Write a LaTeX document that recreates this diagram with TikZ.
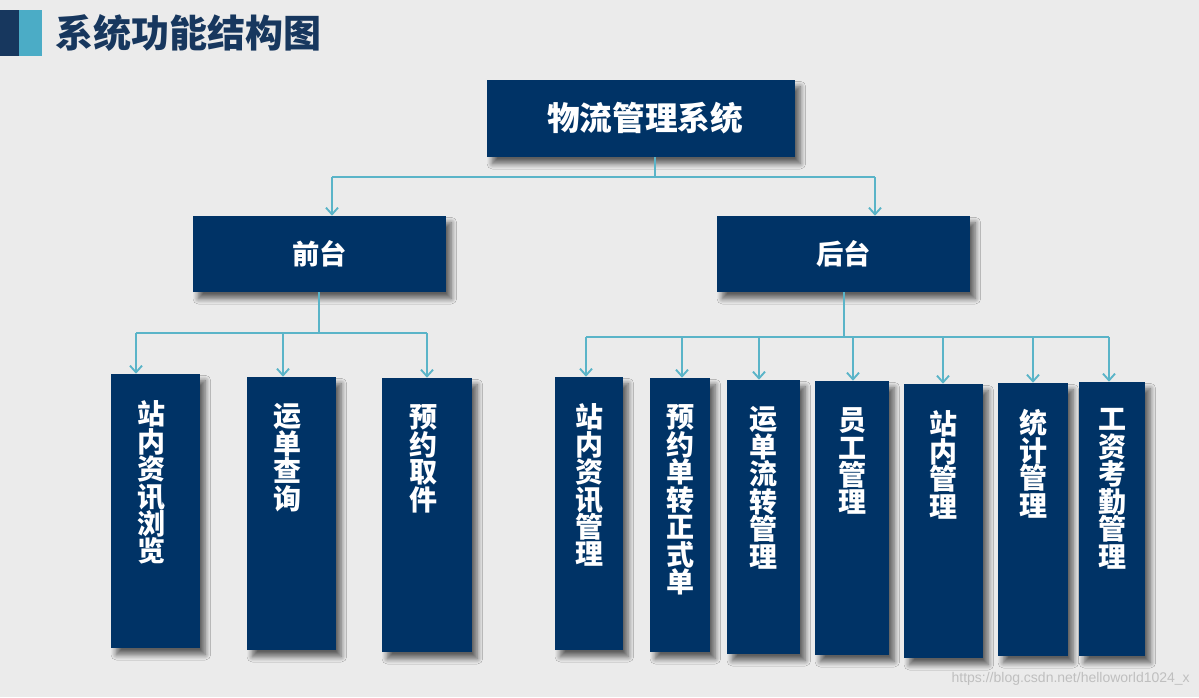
\documentclass[tikz,border=0pt]{standalone}
\usepackage{fontspec}
\usepackage{xcolor}
\usepackage{tikz}
\usetikzlibrary{arrows.meta,shadows.blur}
\newfontfamily\cjk{Noto Sans CJK SC}
\newfontfamily\wmfont{Liberation Sans}
\definecolor{boxnavy}{HTML}{003366}
\definecolor{titlenavy}{HTML}{17375E}
\definecolor{linkteal}{HTML}{5AB4C8}
\definecolor{tealblock}{HTML}{4BACC6}
\definecolor{bggray}{HTML}{EBEBEB}

\begin{document}
\begin{tikzpicture}[x=0.75pt, y=-0.75pt,
    box/.style={fill=boxnavy, inner sep=0pt, text=white,
      blur shadow={shadow xshift=4pt, shadow yshift=-5pt, shadow blur radius=4pt, shadow blur steps=8, shadow opacity=60}},
    leaftxt/.style={anchor=north, yshift=-20pt, align=center, text=white, inner sep=0pt,
      font=\cjk\bfseries\fontsize{21}{20.6}\selectfont},
    link/.style={linkteal, line width=1.4pt},
    arr/.style={link, -{Straight Barb[length=5pt, width=9pt]}}]
    % 背景
    \fill[bggray] (0,0) rectangle (1199,697);
    \useasboundingbox (0,0) rectangle (1199,697);

    % 标题
    \fill[titlenavy] (0,10) rectangle (19,56);
    \fill[tealblock] (19,10) rectangle (42,56);
    \node[anchor=west, inner sep=0pt, text=titlenavy, font=\cjk\bfseries\fontsize{28.5}{30}\selectfont] (title) at (55,33) {系统功能结构图};

    % 根节点
    \node[box, minimum width=231pt, minimum height=57.75pt, font=\cjk\bfseries\fontsize{24.5}{26}\selectfont] (sys) at (641,118.5) {\hspace{6pt}物流管理系统};

    % 第二层
    \node[box, minimum width=189.75pt, minimum height=57pt, font=\cjk\bfseries\fontsize{20.5}{22}\selectfont] (front) at (319.5,254) {前台};
    \node[box, minimum width=189.75pt, minimum height=57pt, font=\cjk\bfseries\fontsize{20.5}{22}\selectfont] (back) at (843.5,254) {后台};

    % 叶节点 -- 前台
    \node[box, minimum width=66.75pt, minimum height=205.5pt, label={[leaftxt, xshift=-3pt]north:站\\内\\资\\讯\\浏\\览}] (l1) at (155.5,511) {};
    \node[box, minimum width=66.75pt, minimum height=204.75pt, label={[leaftxt, xshift=-3pt]north:运\\单\\查\\询}] (l2) at (291.5,513.5) {};
    \node[box, minimum width=67.5pt, minimum height=205.5pt, label={[leaftxt, xshift=-3pt]north:预\\约\\取\\件}] (l3) at (427,515) {};

    % 叶节点 -- 后台
    \node[box, minimum width=51pt, minimum height=204.75pt, label={[leaftxt]north:站\\内\\资\\讯\\管\\理}] (l4) at (589,513.5) {};
    \node[box, minimum width=45pt, minimum height=205.5pt, label={[leaftxt]north:预\\约\\单\\转\\正\\式\\单}] (l5) at (680,515) {};
    \node[box, minimum width=54.75pt, minimum height=205.5pt, label={[leaftxt]north:运\\单\\流\\转\\管\\理}] (l6) at (763.5,517) {};
    \node[box, minimum width=55.5pt, minimum height=205.5pt, label={[leaftxt]north:员\\工\\管\\理}] (l7) at (852,518) {};
    \node[box, minimum width=59.25pt, minimum height=205.5pt, label={[leaftxt]north:站\\内\\管\\理}] (l8) at (943.5,521) {};
    \node[box, minimum width=52.5pt, minimum height=204.75pt, label={[leaftxt]north:统\\计\\管\\理}] (l9) at (1033,519.5) {};
    \node[box, minimum width=49.5pt, minimum height=205.5pt, label={[leaftxt]north:工\\资\\考\\勤\\管\\理}] (l10) at (1112,519) {};

    % 连线 -- 根节点
    \coordinate (sysj) at (655,177);
    \coordinate (frontj) at (332,177);
    \coordinate (backj) at (875,177);
    \draw[link] (sysj |- sys.south) -- (sysj);
    \draw[link] (frontj) -- (backj);
    \draw[arr] (frontj) -- (frontj |- front.north);
    \draw[arr] (backj) -- (backj |- back.north);

    % 连线 -- 前台
    \coordinate (fstem) at (319,333);
    \coordinate (fb1) at (136,333);
    \coordinate (fb2) at (283,333);
    \coordinate (fb3) at (427,333);
    \draw[link] (fstem |- front.south) -- (fstem);
    \draw[link] (fb1) -- (fb3);
    \draw[arr] (fb1) -- (fb1 |- l1.north);
    \draw[arr] (fb2) -- (fb2 |- l2.north);
    \draw[arr] (fb3) -- (fb3 |- l3.north);

    % 连线 -- 后台
    \coordinate (bstem) at (844,337);
    \coordinate (bb4) at (586,337);
    \coordinate (bb5) at (682,337);
    \coordinate (bb6) at (759,337);
    \coordinate (bb7) at (853,337);
    \coordinate (bb8) at (943,337);
    \coordinate (bb9) at (1033,337);
    \coordinate (bb10) at (1109,337);
    \draw[link] (bstem |- back.south) -- (bstem);
    \draw[link] (bb4) -- (bb10);
    \draw[arr] (bb4) -- (bb4 |- l4.north);
    \draw[arr] (bb5) -- (bb5 |- l5.north);
    \draw[arr] (bb6) -- (bb6 |- l6.north);
    \draw[arr] (bb7) -- (bb7 |- l7.north);
    \draw[arr] (bb8) -- (bb8 |- l8.north);
    \draw[arr] (bb9) -- (bb9 |- l9.north);
    \draw[arr] (bb10) -- (bb10 |- l10.north);

    % 水印
    \node[anchor=east, inner sep=0pt, text=black!25, font=\wmfont\fontsize{10.5}{12}\selectfont] (wm) at (1190,679) {https://blog.csdn.net/helloworld1024\_x};
\end{tikzpicture}
\end{document}
